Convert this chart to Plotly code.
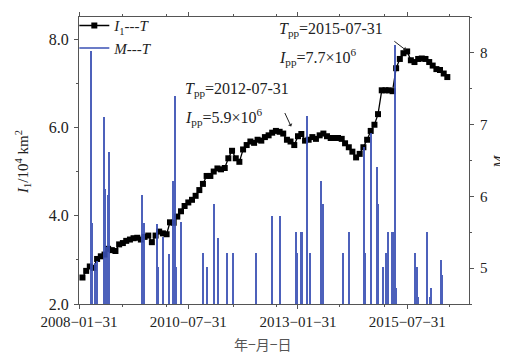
import plotly.graph_objects as go
import pandas as pd

# ---------------- data ----------------
# I1 series: monthly (month-end) values, 2008-02 .. 2016-06, unit 10^4 km^2
i1_start = "2008-02-01"
i1_values = [
    2.60, 2.75, 2.85, 2.82, 3.02, 3.08, 3.12, 3.25, 3.22, 3.20, 3.35,          # 2008 Feb-Dec
    3.38, 3.43, 3.46, 3.49, 3.50, 3.46, 3.52, 3.55, 3.40, 3.55, 3.64, 3.60,    # 2009
    3.58, 3.85, 3.84, 3.98, 4.10, 4.22, 4.30, 4.36, 4.45, 4.58, 4.72, 4.90,    # 2010
    4.90, 5.00, 5.07, 5.05, 5.08, 5.30, 5.47, 5.30, 5.22, 5.50, 5.60, 5.68,    # 2011
    5.65, 5.72, 5.70, 5.78, 5.82, 5.88, 5.92, 5.90, 5.86, 5.72, 5.68, 5.60,    # 2012
    5.80, 5.85, 5.70, 5.72, 5.78, 5.74, 5.82, 5.86, 5.80, 5.76, 5.76, 5.76,    # 2013
    5.74, 5.64, 5.55, 5.45, 5.32, 5.40, 5.55, 5.72, 5.92, 6.06, 6.30, 6.84,    # 2014
    6.84, 6.84, 6.82, 7.34, 7.55, 7.68, 7.72, 7.52, 7.48, 7.55, 7.56, 7.55,    # 2015
    7.48, 7.40, 7.32, 7.30, 7.22, 7.14,                                        # 2016 Jan-Jun
]

# Earthquake magnitudes M vs time
m_dates = [
    "2008-05-13", "2008-05-18", "2008-06-12", "2008-07-03", "2008-08-26", "2008-09-06",
    "2008-09-18", "2008-09-29", "2008-10-05", "2009-07-12", "2009-07-24", "2009-11-11",
    "2009-11-20", "2010-01-01", "2010-02-24", "2010-03-27", "2010-04-15", "2010-04-23",
    "2010-05-31", "2010-12-03", "2010-12-31", "2011-03-06", "2011-04-08", "2011-06-22",
    "2011-08-05", "2012-02-15", "2012-06-25", "2012-09-06", "2013-01-14", "2013-01-20",
    "2013-02-22", "2013-03-02", "2013-04-18", "2013-05-13", "2013-08-09", "2013-08-25",
    "2014-02-09", "2014-03-30", "2014-08-04", "2014-08-11", "2014-10-01", "2014-11-18",
    "2014-11-27", "2015-01-12", "2015-02-02", "2015-02-22", "2015-03-23", "2015-04-03",
    "2015-04-19", "2015-05-03", "2015-10-05", "2015-10-20", "2015-10-31", "2016-01-09",
    "2016-02-05", "2016-02-19", "2016-05-07", "2016-05-19",
]
m_values = [
    8.02, 5.63, 5.07, 5.10, 7.11, 6.10,
    5.30, 6.02, 6.62, 6.02, 5.63, 5.62,
    5.02, 5.43, 5.20, 6.21, 7.40, 5.02,
    5.64, 5.21, 5.02, 5.90, 5.42, 5.21,
    5.21, 5.21, 5.72, 5.72, 5.51, 5.21,
    5.51, 5.51, 7.12, 5.21, 6.21, 5.90,
    5.21, 5.51, 6.69, 5.21, 6.88, 6.41,
    5.90, 5.02, 5.21, 5.51, 5.51, 5.51,
    8.11, 4.72, 5.21, 5.02, 4.60, 5.51,
    4.60, 4.72, 5.11, 4.90,
]

x_tick_vals = ["2008-01-31", "2010-07-31", "2013-01-31", "2015-07-31"]
x_tick_text = ["2008−01−31", "2010−07−31", "2013−01−31", "2015−07−31"]
x_minor_vals = ["2009-01-31", "2010-01-31", "2011-08-08", "2012-08-08",
                "2014-01-16", "2015-01-26", "2016-07-16"]
y1_tick_vals = [2, 4, 6, 8]
y1_tick_text = ["2.0", "4.0", "6.0", "8.0"]
y2_tick_vals = [5, 6, 7, 8]

# peak annotations
peak1_date, peak1_val = "2012-12-05", 6.02
peak2_date, peak2_val = "2015-07-20", 7.75

# ---------------- figure ----------------
i1_dates = pd.date_range(i1_start, periods=len(i1_values), freq="MS") + pd.offsets.MonthEnd(0)

SERIF = "Liberation Serif, Times New Roman, serif"
BLUE = "#3A50B4"
AX = "#555555"

fig = go.Figure()
fig.add_trace(go.Scatter(
    x=i1_dates, y=i1_values, mode="lines+markers",
    line=dict(color="black", width=1.3),
    marker=dict(symbol="square", size=6, color="black"),
    name="<i>I</i><sub>1</sub>---<i>T</i>", yaxis="y",
))
fig.add_trace(go.Bar(
    x=m_dates, y=m_values, yaxis="y2",
    width=8.0e8, marker=dict(color=BLUE, line=dict(width=0)),
    showlegend=False, opacity=0.9,
))
fig.add_trace(go.Scatter(
    x=[None], y=[None], mode="lines", line=dict(color=BLUE, width=1.5),
    name="<i>M</i>---<i>T</i>", yaxis="y2",
))

axis_common = dict(showline=True, linecolor=AX, linewidth=1, ticks="outside",
                   ticklen=4, tickcolor=AX, showgrid=False, zeroline=False)

fig.update_layout(
    width=500, height=347, autosize=False,
    margin=dict(l=71, r=39, t=9, b=51, autoexpand=False),
    paper_bgcolor="white", plot_bgcolor="white",
    showlegend=True,
    legend=dict(x=-0.012, y=1.027, xanchor="left", yanchor="top",
                bgcolor="rgba(0,0,0,0)", font=dict(family=SERIF, size=15, color="#222"),
                itemwidth=30, tracegroupgap=0),
    xaxis=dict(type="date", range=["2008-01-31", "2016-12-28"],
               tickmode="array", tickvals=x_tick_vals, ticktext=x_tick_text,
               mirror="ticks",
               tickfont=dict(family=SERIF, size=15, color="#222"),
               minor=dict(tickmode="array", tickvals=x_minor_vals, ticks="outside",
                          ticklen=2, tickcolor=AX),
               **axis_common),
    yaxis=dict(range=[2, 8.5], tickmode="array", tickvals=y1_tick_vals, ticktext=y1_tick_text,
               mirror=True, ticklabelstandoff=2,
               tickfont=dict(family=SERIF, size=16, color="#222"),
               minor=dict(dtick=1, tick0=2, ticks="outside", ticklen=2, tickcolor=AX),
               **axis_common),
    yaxis2=dict(range=[4.5, 8.5], overlaying="y", side="right",
                tickmode="array", tickvals=y2_tick_vals, ticklabelstandoff=3,
                tickfont=dict(family=SERIF, size=15, color="#222"),
                minor=dict(dtick=0.5, tick0=4.5, ticks="outside", ticklen=2, tickcolor=AX),
                **axis_common),
    bargap=0,
)

# axis titles
fig.add_annotation(xref="paper", yref="paper", x=-0.1436, y=0.495, textangle=-90,
                   xanchor="center", yanchor="middle", showarrow=False,
                   text="<i>I</i><sub>1</sub>/10<sup>4</sup> km<sup>2</sup>",
                   font=dict(family=SERIF, size=15, color="#222"))
fig.add_annotation(xref="paper", yref="paper", x=1.077, y=0.495, textangle=-90,
                   xanchor="center", yanchor="middle", showarrow=False,
                   text="<i>M</i>", font=dict(family=SERIF, size=15, color="#222"))
fig.add_annotation(xref="paper", yref="paper", x=0.472, y=-0.139,
                   xanchor="center", yanchor="middle", showarrow=False,
                   text="年−月−日", font=dict(family="Noto Sans CJK SC", size=14, color="#555"))

ann_font = dict(family=SERIF, size=16, color="#222")
fig.add_annotation(xref="paper", yref="paper", x=0.508, y=0.955, xanchor="left", yanchor="middle",
                   text="<i>T</i><sub>pp</sub>=2015-07-31", showarrow=False, font=ann_font)
fig.add_annotation(xref="paper", yref="paper", x=0.508, y=0.861, xanchor="left", yanchor="middle",
                   text="<i>I</i><sub>pp</sub>=7.7×10<sup>6</sup>", showarrow=False, font=ann_font)
fig.add_annotation(xref="paper", yref="paper", x=0.267, y=0.749, xanchor="left", yanchor="middle",
                   text="<i>T</i><sub>pp</sub>=2012-07-31", showarrow=False, font=ann_font)
fig.add_annotation(xref="paper", yref="paper", x=0.267, y=0.652, xanchor="left", yanchor="middle",
                   text="<i>I</i><sub>pp</sub>=5.9×10<sup>6</sup>", showarrow=False, font=ann_font)
fig.add_annotation(x=peak1_date, y=peak1_val, xref="x", yref="y", ax=-7, ay=-15,
                   showarrow=True, arrowhead=1, arrowsize=0.8, arrowwidth=1, arrowcolor="#222", text="")
fig.add_annotation(x=peak2_date, y=peak2_val, xref="x", yref="y", ax=-13, ay=-10,
                   showarrow=True, arrowhead=1, arrowsize=0.8, arrowwidth=1, arrowcolor="#222", text="")

fig.write_html("out.html")
